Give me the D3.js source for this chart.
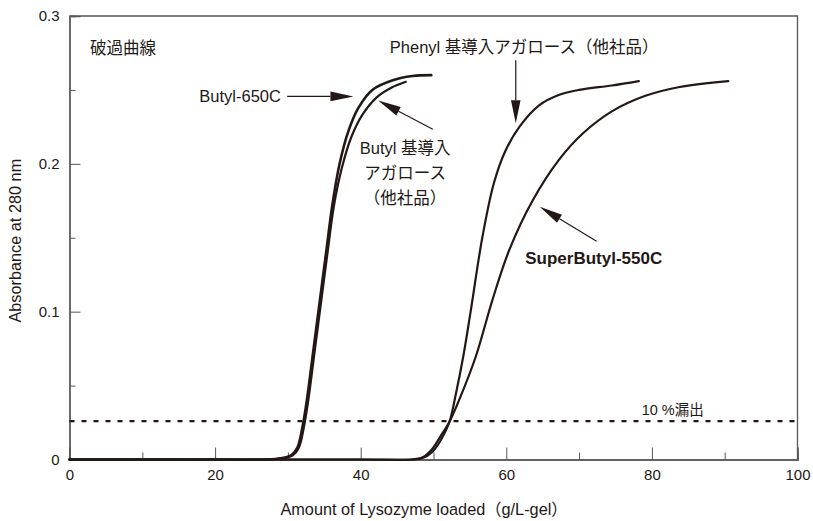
<!DOCTYPE html>
<html>
<head>
<meta charset="utf-8">
<script src="https://cdn.jsdelivr.net/npm/d3@7"></script>
<style>
  html, body { margin: 0; padding: 0; background: #fff; }
  svg { display: block; }
  text { font-family: "Liberation Sans", Arial, "Noto Sans CJK JP", sans-serif; fill: #231815; }
</style>
</head>
<body>
<svg id="chart" width="813" height="521"></svg>
<script>
// Axis ticks
const xMajorTicks = [0, 20, 40, 60, 80, 100];
const xMinorTicks = [10, 30, 50, 70, 90];
const yMajorTicks = [0, 0.1, 0.2, 0.3];
const yMinorTicks = [0.05, 0.15, 0.25];
const yTickLabels = ["0", "0.1", "0.2", "0.3"];

// Breakthrough curves: lysozyme loaded (g/L-gel) vs absorbance at 280 nm
const butyl650X = [0, 15, 27, 29.0, 30.5, 31.3, 32.0, 32.6, 33.5, 34.4, 35.3, 36.1, 37.1, 38.3, 39.7, 41.6, 44.4, 47.1, 49.7];
const butyl650Y = [0, 0, 0, 0.0008, 0.003, 0.008, 0.022, 0.040, 0.074, 0.108, 0.142, 0.172, 0.200, 0.222, 0.238, 0.250, 0.2565, 0.2594, 0.2600];

const butylAgaroseX = [0, 15, 27, 29.2, 30.7, 31.5, 32.2, 32.8, 33.7, 34.6, 35.5, 36.3, 37.4, 38.7, 40.2, 42.2, 44.2, 46.2];
const butylAgaroseY = [0, 0, 0, 0.0008, 0.003, 0.008, 0.022, 0.040, 0.074, 0.108, 0.142, 0.171, 0.197, 0.218, 0.233, 0.2450, 0.2515, 0.2555];

const phenylX = [0, 20, 40, 47.0, 48.5, 49.8, 51.0, 52.2, 53.1, 54.1, 55.1, 56.7, 58.3, 59.9, 61.8, 64.5, 67.2, 70.0, 74.5, 78.2];
const phenylY = [0, 0, 0, 0, 0.001, 0.005, 0.013, 0.0256, 0.045, 0.070, 0.100, 0.150, 0.187, 0.209, 0.225, 0.2395, 0.2465, 0.2500, 0.2530, 0.2560];

const superButylX = [0, 20, 40, 47.0, 48.5, 49.8, 51.0, 52.2, 53.5, 55.8, 58.1, 60.4, 63.6, 67.2, 70.5, 74.5, 79.1, 83.8, 90.5];
const superButylY = [0, 0, 0, 0, 0.0015, 0.007, 0.016, 0.0256, 0.040, 0.0695, 0.108, 0.1416, 0.175, 0.2025, 0.2205, 0.2355, 0.2460, 0.2520, 0.2560];

// 10 % leakage level
const leakLevel = 0.026;

const svg = d3.select("#chart");
const W = 813, H = 521;
const margin = { left: 69.5, right: 15.5, top: 16, bottom: 61.5 };
const innerW = W - margin.left - margin.right;
const innerH = H - margin.top - margin.bottom;

const x = d3.scaleLinear().domain([0, 100]).range([margin.left, margin.left + innerW]);
const y = d3.scaleLinear().domain([0, 0.3]).range([margin.top + innerH, margin.top]);

const ink = "#231815";
const frameColor = "#595757";

// Plot frame (top and right edges)
svg.append("path")
  .attr("d", `M${x(0)},${y(0.3)}H${x(100)}V${y(0)}`)
  .attr("fill", "none").attr("stroke", frameColor).attr("stroke-width", 1.3);

// Bottom axis
const gx = svg.append("g").attr("transform", `translate(0,${y(0)})`);
gx.call(d3.axisBottom(x).tickValues(xMajorTicks).tickSize(-12).tickPadding(10).tickFormat(d3.format("d")));
const gxMinor = svg.append("g").attr("transform", `translate(0,${y(0)})`);
gxMinor.call(d3.axisBottom(x).tickValues(xMinorTicks).tickSize(-7).tickFormat(""));

// Left axis
const gy = svg.append("g").attr("transform", `translate(${x(0)},0)`);
gy.call(d3.axisLeft(y).tickValues(yMajorTicks).tickSize(-11).tickPadding(10)
  .tickFormat((d, i) => yTickLabels[i]));
const gyMinor = svg.append("g").attr("transform", `translate(${x(0)},0)`);
gyMinor.call(d3.axisLeft(y).tickValues(yMinorTicks).tickSize(-6).tickFormat(""));

svg.selectAll(".domain").attr("stroke", frameColor).attr("stroke-width", 1.3);
svg.selectAll(".tick line").attr("stroke", frameColor).attr("stroke-width", 1);
svg.selectAll(".tick text").attr("font-size", 15).attr("fill", ink)
  .attr("font-family", '"Liberation Sans", Arial, sans-serif');

// Axis titles
svg.append("text")
  .attr("x", 424).attr("y", 515)
  .attr("text-anchor", "middle").attr("font-size", 16.3)
  .text("Amount of Lysozyme loaded（g/L-gel）");

svg.append("text")
  .attr("transform", `translate(21,${y(0.148)}) rotate(-90)`)
  .attr("text-anchor", "middle").attr("font-size", 16.3)
  .text("Absorbance at 280 nm");

// 10 % leakage line
svg.append("line")
  .attr("x1", x(0)).attr("x2", x(100))
  .attr("y1", y(leakLevel)).attr("y2", y(leakLevel))
  .attr("stroke", ink).attr("stroke-width", 2.2)
  .attr("stroke-dasharray", "5,7");

// Curves
const line = d3.line().x(d => x(d[0])).y(d => y(d[1])).curve(d3.curveCatmullRom.alpha(0.5));
const series = [
  [superButylX, superButylY, 2.2],
  [phenylX, phenylY, 2.2],
  [butylAgaroseX, butylAgaroseY, 2.2],
  [butyl650X, butyl650Y, 2.6]
];
series.forEach(([xs, ys, sw]) => {
  svg.append("path")
    .datum(xs.map((v, i) => [v, ys[i]]))
    .attr("d", line)
    .attr("fill", "none")
    .attr("stroke", ink)
    .attr("stroke-width", sw)
    .attr("stroke-linejoin", "round")
    .attr("stroke-linecap", "round");
});

// Annotation arrows (data units: [from], [to])
const arrows = [
  [[29.9, 0.2456], [39.0, 0.2456]],
  [[49.9, 0.2234], [42.4, 0.2428]],
  [[61.3, 0.270], [61.3, 0.2275]],
  [[72.4, 0.1477], [64.6, 0.1709]]
];
arrows.forEach(([a, b]) => {
  const x1 = x(a[0]), y1 = y(a[1]), x2 = x(b[0]), y2 = y(b[1]);
  const ang = Math.atan2(y2 - y1, x2 - x1);
  const L = 23, hw = 4.8;
  const bx = x2 - L * Math.cos(ang), by = y2 - L * Math.sin(ang);
  svg.append("line")
    .attr("x1", x1).attr("y1", y1).attr("x2", bx).attr("y2", by)
    .attr("stroke", ink).attr("stroke-width", 1.2);
  const px = -Math.sin(ang) * hw, py = Math.cos(ang) * hw;
  svg.append("path")
    .attr("d", `M${x2},${y2}L${bx + px},${by + py}L${bx - px},${by - py}Z`)
    .attr("fill", ink);
});

// Text annotations
const labels = [
  { t: "破過曲線", at: [2.8, 0.2782], anchor: "start", size: 16.5 },
  { t: "Butyl-650C", at: [29.05, 0.2456], anchor: "end", size: 16.5 },
  { t: "Butyl 基導入", at: [46.1, 0.2106], anchor: "middle", size: 16.5 },
  { t: "アガロース", at: [46.1, 0.1937], anchor: "middle", size: 16.5 },
  { t: "（他社品）", at: [46.1, 0.1768], anchor: "middle", size: 16.5 },
  { t: "Phenyl 基導入アガロース（他社品）", at: [44.0, 0.2789], anchor: "start", size: 16.5 },
  { t: "SuperButyl-550C", at: [62.6, 0.1364], anchor: "start", size: 17, weight: "bold" },
  { t: "10 %漏出", at: [78.6, 0.0337], anchor: "start", size: 14.5 }
];
labels.forEach(l => {
  svg.append("text")
    .attr("x", x(l.at[0])).attr("y", y(l.at[1]))
    .attr("dy", "0.36em")
    .attr("text-anchor", l.anchor)
    .attr("font-size", l.size)
    .attr("font-weight", l.weight || "normal")
    .text(l.t);
});
</script>
</body>
</html>
